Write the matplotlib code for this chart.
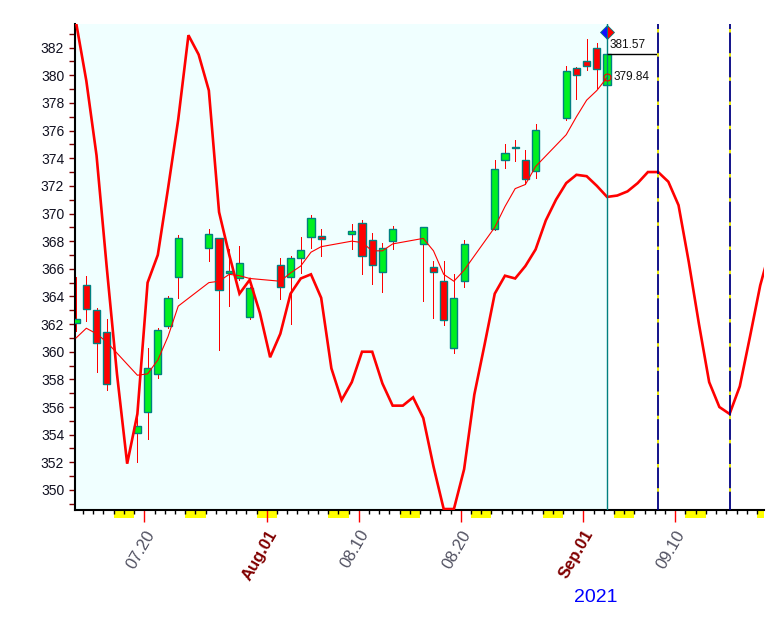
import matplotlib
matplotlib.use('Agg')
import matplotlib.pyplot as plt
import numpy as np
import pandas as pd
from matplotlib.transforms import blended_transform_factory
from matplotlib.patches import Rectangle

plt.rcParams['font.family'] = ['Liberation Sans', 'DejaVu Sans']
plt.rcParams['lines.scale_dashes'] = False

# ---------------- data ----------------
trade_dates = ['2021-07-13', '2021-07-14', '2021-07-15', '2021-07-16',
               '2021-07-19', '2021-07-20', '2021-07-21', '2021-07-22', '2021-07-23',
               '2021-07-26', '2021-07-27', '2021-07-28', '2021-07-29', '2021-07-30',
               '2021-08-02', '2021-08-03', '2021-08-04', '2021-08-05', '2021-08-06',
               '2021-08-09', '2021-08-10', '2021-08-11', '2021-08-12', '2021-08-13',
               '2021-08-16', '2021-08-17', '2021-08-18', '2021-08-19', '2021-08-20',
               '2021-08-23', '2021-08-24', '2021-08-25', '2021-08-26', '2021-08-27',
               '2021-08-30', '2021-08-31', '2021-09-01', '2021-09-02', '2021-09-03']
opens = [362.1, 364.8, 363.0, 361.4,
         354.15, 355.65, 358.4, 361.85, 365.4,
         367.5, 368.2, 365.7, 365.3, 362.5,
         366.3, 365.4, 366.8, 368.3, 368.4,
         368.55, 369.3, 368.1, 365.8, 368.0,
         367.8, 366.15, 365.15, 360.3, 365.15,
         368.85, 373.9, 374.75, 373.9, 373.1,
         376.9, 380.5, 381.05, 382.0, 379.3]
highs = [365.4, 365.5, 363.2, 362.4,
         355.2, 360.25, 361.7, 364.0, 368.45,
         368.9, 368.2, 367.4, 367.65, 364.7,
         366.8, 366.9, 368.3, 369.9, 368.9,
         369.25, 369.5, 368.6, 367.85, 369.1,
         369.0, 366.6, 366.6, 365.6, 368.1,
         373.9, 375.0, 375.3, 374.6, 376.5,
         380.7, 380.6, 382.65, 382.35, 381.6]
lows = [361.5, 362.2, 358.5, 357.2,
        352.0, 353.7, 358.1, 361.7, 363.9,
        366.6, 360.1, 363.3, 365.2, 362.4,
        363.8, 362.0, 365.7, 367.5, 366.9,
        367.4, 365.6, 364.9, 364.3, 367.4,
        363.7, 362.45, 361.9, 359.9, 364.7,
        368.8, 373.3, 373.8, 372.1, 372.55,
        376.8, 378.3, 380.35, 379.1, 379.3]
closes = [362.4, 363.1, 360.6, 357.7,
          354.6, 358.8, 361.6, 363.9, 368.2,
          368.5, 364.5, 365.85, 366.45, 364.6,
          364.65, 366.8, 367.35, 369.65, 368.15,
          368.7, 366.9, 366.3, 367.5, 368.85,
          369.0, 365.8, 362.3, 363.9, 367.8,
          373.2, 374.4, 374.8, 372.5, 376.05,
          380.3, 380.0, 380.65, 380.45, 381.57]
ma_values = [361.0, 361.7, 361.3, 360.7,
             358.3, 358.4, 359.4, 361.1, 363.3,
             365.0, 365.1, 365.6, 365.5, 365.3,
             365.1, 365.7, 366.2, 367.2, 367.6,
             368.0, 367.9, 367.3, 367.3, 367.8,
             368.2, 367.3, 365.6, 365.1, 365.9,
             369.0, 370.5, 371.8, 372.1, 373.4,
             375.7, 377.0, 378.2, 378.9, 379.84]

# projected cycle line, one value per calendar day from 2021-07-13
cycle_start = '2021-07-13'
cycle_values = [383.8, 379.6, 374.2, 366.1, 358.4, 351.9, 355.5, 365.0, 367.0, 371.8,
                376.8, 382.9, 381.5, 378.9, 370.1, 367.0, 364.2, 365.2, 362.8, 359.6,
                361.3, 364.2, 365.3, 365.6, 363.9, 358.8, 356.5, 357.8, 360.0, 360.0,
                357.7, 356.1, 356.1, 356.7, 355.2, 351.7, 348.62, 348.62, 351.5, 356.9,
                360.5, 364.2, 365.5, 365.3, 366.2, 367.4, 369.5, 371.0, 372.2, 372.8,
                372.7, 372.0, 371.2, 371.3, 371.6, 372.2, 373.0, 373.0, 372.3, 370.6,
                366.5, 362.0, 357.8, 356.0, 355.5, 357.5, 361.1, 364.8, 367.5]

tick_dates = ['2021-07-20', '2021-08-01', '2021-08-10', '2021-08-20', '2021-09-01', '2021-09-10']
tick_labels = ['07.20', 'Aug.01', '08.10', '08.20', 'Sep.01', '09.10']
month_ticks = ['Aug.01', 'Sep.01']
marker_dates = ['2021-09-08', '2021-09-15']
last_close = 381.57
last_ma = 379.84
year_label = '2021'

# ---------------- helpers ----------------
origin = pd.Timestamp('2021-07-13')


def day_index(d):
    return (pd.Timestamp(d) - origin).days


TICK_SHIFT = -0.32
x_trade = np.array([day_index(d) for d in trade_dates], dtype=float)
x_cycle = day_index(cycle_start) + np.arange(len(cycle_values))
x_ticks = np.array([day_index(d) for d in tick_dates]) + TICK_SHIFT
x_last = x_trade[-1]

XMIN, XMAX = -0.08, 67.37
YMIN, YMAX = 348.55, 383.71

fig = plt.figure(figsize=(7.79, 6.29), dpi=100)
ax = fig.add_axes([75.3 / 779, 119 / 629, 688.7 / 779, 486 / 629])
ax.set_facecolor('white')
ax.set_xlim(XMIN, XMAX)
ax.set_ylim(YMIN, YMAX)

# light background up to the last bar
ax.axvspan(XMIN, x_last, color='#F0FFFF', zorder=0, lw=0)

# candles
o = np.array(opens); c = np.array(closes); h = np.array(highs); l = np.array(lows)
ax.vlines(x_trade, l, h, color='#FF0000', lw=0.7, zorder=2, antialiased=False)
up = c >= o
body_bottom = np.minimum(o, c)
body_h = np.maximum(np.abs(c - o), 0.06)
ax.bar(x_trade[up], body_h[up], bottom=body_bottom[up], width=0.7,
       color='#00F020', edgecolor='#008080', linewidth=1.0, zorder=3)
ax.bar(x_trade[~up], body_h[~up], bottom=body_bottom[~up], width=0.7,
       color='#FF0000', edgecolor='#008080', linewidth=1.0, zorder=3)

# moving average (thin) and cycle line (thick)
ax.plot(x_trade, ma_values, color='#FF0000', lw=0.8, zorder=4)
ax.plot(x_cycle, cycle_values, color='#FF0000', lw=1.9, zorder=4, solid_joinstyle='miter')

# current bar line
ax.axvline(x_last, color='#008080', lw=1.0, zorder=5)
ax.plot([x_last], [383.16], marker='D', ms=7, fillstyle='left',
        markerfacecolor='#1010FF', markerfacecoloralt='#FF0000',
        markeredgecolor='#008080', markeredgewidth=0.6, zorder=6, clip_on=False)
ax.plot([x_last], [last_ma], marker='o', ms=5, mfc='none', mec='#FF0000', mew=0.8, zorder=6)
ax.hlines(last_close, x_last, day_index(marker_dates[0]) - 0.1, color='black', lw=1.0, zorder=5)
ax.annotate(f'{last_close:.2f}', xy=(x_last, last_close), xytext=(1.5, 1.5),
            textcoords='offset points', ha='left', va='bottom', fontsize=8.5, color='#101010')
ax.annotate(f'{last_ma:.2f}', xy=(x_last, last_ma), xytext=(5, 0),
            textcoords='offset points', ha='left', va='center', fontsize=8.5, color='#101010')

# future marker lines
for d in marker_dates:
    xd = day_index(d)
    ax.axvline(xd, color='#000080', lw=1.3, zorder=5)
    ax.axvline(xd, color='#FFFF00', lw=1.3, zorder=6, linestyle=(4.2, (2.5, 14.9)))

# spines
for s in ['top', 'right']:
    ax.spines[s].set_visible(False)
ax.spines['left'].set_linewidth(1.5)
ax.spines['bottom'].set_linewidth(1.5)

# y axis
ax.set_yticks(np.arange(350, 383, 2))
ax.set_yticks(np.arange(349, 384, 1), minor=True)
ax.tick_params(axis='y', which='major', length=4, width=1, color='#800000',
               labelsize=10, labelcolor='#101020', pad=4)
ax.tick_params(axis='y', which='minor', length=4, width=1, color='#800000')

# x axis
ax.set_xticks(x_ticks)
ax.set_xticklabels(tick_labels)
minor_x = np.arange(0, 69) + TICK_SHIFT
minor_x = minor_x[(minor_x >= XMIN) & (minor_x <= XMAX)]
ax.set_xticks(minor_x, minor=True)
ax.tick_params(axis='x', which='major', length=8.6, width=1, color='#FF0000',
               labelsize=12, pad=4)
ax.tick_params(axis='x', which='minor', length=2.6, width=1, color='black')
for lab in ax.get_xticklabels():
    lab.set_rotation(60)
    lab.set_ha('right')
    lab.set_va('top')
    lab.set_rotation_mode('anchor')
    if lab.get_text() in month_ticks:
        lab.set_color('#800000')
        lab.set_fontweight('bold')
    else:
        lab.set_color('#505060')

# weekend markers below axis
trans = blended_transform_factory(ax.transData, ax.transAxes)
for k in range(-2, 70):
    day = origin + pd.Timedelta(days=k)
    if day.weekday() == 5:
        x0 = max(k + TICK_SHIFT, XMIN)
        x1 = min(k + TICK_SHIFT + 2, XMAX)
        if x1 > x0:
            ax.add_patch(Rectangle((x0, -0.0165), x1 - x0, 0.015, transform=trans,
                                   color='#FFFF00', lw=0, clip_on=False, zorder=1))

fig.text(595.7 / 779, 1 - 598 / 629, year_label, color='#0000FF', fontsize=14,
         ha='center', va='center')

fig.savefig('out.png', dpi=100)
